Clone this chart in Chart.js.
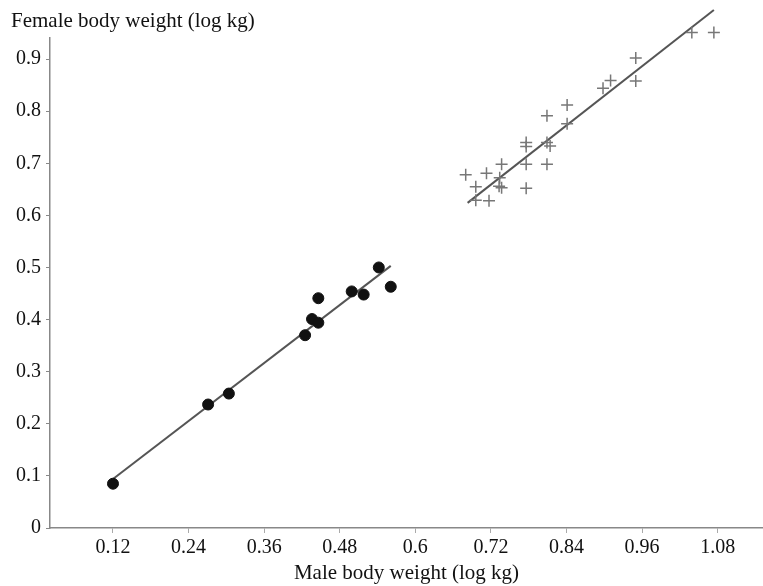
<!DOCTYPE html>
<html>
<head>
<meta charset="utf-8">
<script src="https://cdn.jsdelivr.net/npm/chart.js@4/dist/chart.umd.min.js"></script>
<style>
  html, body { margin: 0; padding: 0; background: #fff; overflow: hidden; }
  canvas { display: block; }
</style>
</head>
<body>
<canvas id="chart" width="763" height="586"></canvas>
<script>
// male (x) and female (y) body weight, log kg
const dotX = [0.120, 0.271, 0.304, 0.425, 0.436, 0.446, 0.446, 0.499, 0.518, 0.542, 0.561];
const dotY = [0.085, 0.237, 0.258, 0.370, 0.401, 0.394, 0.441, 0.454, 0.448, 0.500, 0.463];

const crossX = [0.680, 0.696, 0.696, 0.717, 0.713, 0.737, 0.734, 0.733, 0.737, 0.776, 0.776, 0.776,
                0.776, 0.809, 0.809, 0.814, 0.809, 0.841, 0.841, 0.898, 0.910, 0.950, 0.950, 1.039, 1.074];
const crossY = [0.678, 0.655, 0.629, 0.628, 0.681, 0.698, 0.672, 0.656, 0.653, 0.740, 0.732, 0.698,
                0.652, 0.791, 0.740, 0.733, 0.698, 0.812, 0.776, 0.844, 0.859, 0.902, 0.858, 0.951, 0.951];

// fitted lines (end points)
const dotFitX = [0.120, 0.561];
const dotFitY = [0.094, 0.503];
const crossFitX = [0.683, 1.074];
const crossFitY = [0.624, 0.994];

const xTicks = [0.12, 0.24, 0.36, 0.48, 0.6, 0.72, 0.84, 0.96, 1.08];
const yTicks = [0, 0.1, 0.2, 0.3, 0.4, 0.5, 0.6, 0.7, 0.8, 0.9];

function pts(xs, ys) {
    return xs.map((x, i) => ({ x: x, y: ys[i] }));
}

const serif = 'Liberation Serif';

var ctx = document.getElementById('chart').getContext('2d');
var mychart = new Chart(ctx, {
    type: 'scatter',
    data: {
        datasets: [{
            data: pts(dotX, dotY),
            pointStyle: 'circle',
            pointRadius: 5.5,
            backgroundColor: '#111',
            borderColor: '#111',
            borderWidth: 1
        }, {
            data: pts(crossX, crossY),
            pointStyle: 'cross',
            pointRadius: 6,
            borderColor: '#777',
            borderWidth: 1.5,
            clip: false
        }, {
            data: pts(dotFitX, dotFitY),
            showLine: true,
            pointRadius: 0,
            borderColor: '#555',
            borderWidth: 2,
            clip: false
        }, {
            data: pts(crossFitX, crossFitY),
            showLine: true,
            pointRadius: 0,
            borderColor: '#555',
            borderWidth: 2,
            clip: false
        }]
    },
    options: {
        responsive: false,
        animation: false,
        layout: { autoPadding: false, padding: { left: 11, right: 0, top: 8, bottom: 0 } },
        plugins: {
            legend: { display: false },
            tooltip: { enabled: false },
            title: {
                display: true,
                text: 'Female body weight (log kg)',
                align: 'start',
                color: '#111',
                font: { family: serif, size: 21, weight: 'normal' },
                padding: { top: 1, bottom: 4 }
            }
        },
        scales: {
            x: {
                type: 'linear',
                min: 0.02,
                max: 1.152,
                afterBuildTicks: axis => { axis.ticks = xTicks.map(v => ({ value: v })); },
                ticks: {
                    color: '#111',
                    font: { family: serif, size: 20 },
                    padding: 3,
                    callback: v => String(+v.toFixed(2))
                },
                grid: { drawOnChartArea: false, drawTicks: true, tickLength: 5, color: '#aaa' },
                border: { color: '#888', width: 1.5 },
                title: {
                    display: true,
                    text: 'Male body weight (log kg)',
                    color: '#111',
                    font: { family: serif, size: 21, lineHeight: 1.0 },
                    padding: { top: 0, bottom: 2 }
                }
            },
            y: {
                type: 'linear',
                min: 0,
                max: 0.94,
                afterBuildTicks: axis => { axis.ticks = yTicks.map(v => ({ value: v })); },
                ticks: {
                    color: '#111',
                    font: { family: serif, size: 20 },
                    padding: 5,
                    callback: v => String(+v.toFixed(1))
                },
                grid: { drawOnChartArea: false, drawTicks: true, tickLength: 4, color: '#888' },
                border: { color: '#888', width: 1.5 }
            }
        }
    }
});
</script>
</body>
</html>
